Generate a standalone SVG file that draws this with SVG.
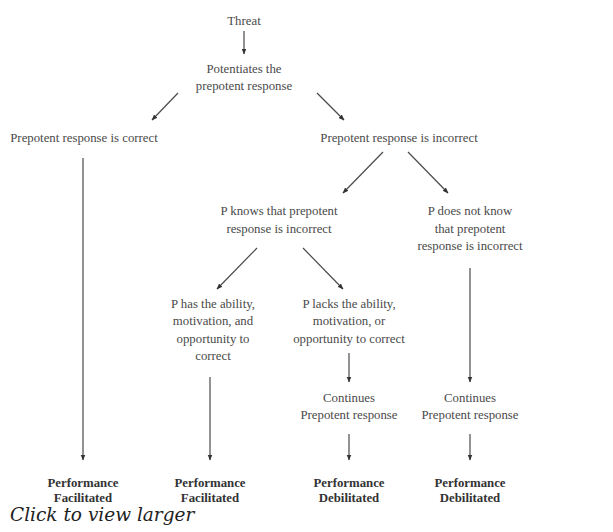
<svg xmlns="http://www.w3.org/2000/svg" width="613" height="532" viewBox="0 0 613 532">
<defs>
<style>
.t{font-family:"Liberation Serif","Times New Roman",serif;font-size:12.8px;fill:#4a4a4a;text-anchor:middle}
.b{font-weight:bold;fill:#333}
.c{stroke:#4a4a4a;stroke-width:1.2;fill:none;marker-end:url(#ah)}
.cap{font-family:"DejaVu Serif",serif;font-style:italic;font-size:18.5px;fill:#222}
</style>
<marker id="ah" viewBox="0 0 10 10" refX="9" refY="5" markerWidth="5" markerHeight="5" orient="auto" markerUnits="strokeWidth">
<path d="M0,1 L10,5 L0,9 z" fill="#333"/>
</marker>
</defs>
<rect width="613" height="532" fill="#fff"/>
<g id="connectors">
<line class="c" x1="244" y1="31" x2="244" y2="54"/>
<line class="c" x1="178" y1="93" x2="152" y2="120"/>
<line class="c" x1="317" y1="93" x2="344" y2="120"/>
<line class="c" x1="83" y1="158" x2="83" y2="460"/>
<line class="c" x1="383" y1="152" x2="343" y2="193"/>
<line class="c" x1="408" y1="152" x2="448" y2="193"/>
<line class="c" x1="257" y1="248" x2="217" y2="289"/>
<line class="c" x1="303" y1="248" x2="343" y2="289"/>
<line class="c" x1="470" y1="268" x2="470" y2="382"/>
<line class="c" x1="349" y1="353" x2="349" y2="382"/>
<line class="c" x1="210" y1="377" x2="210" y2="460"/>
<line class="c" x1="349" y1="434" x2="349" y2="460"/>
<line class="c" x1="470" y1="434" x2="470" y2="460"/>
</g>
<g id="threat"><text class="t" x="244" y="25">Threat</text></g>
<g id="potentiates"><text class="t" x="244" y="73">Potentiates the</text><text class="t" x="244" y="90">prepotent response</text></g>
<g id="correct"><text class="t" x="84" y="142">Prepotent response is correct</text></g>
<g id="incorrect"><text class="t" x="399" y="142">Prepotent response is incorrect</text></g>
<g id="knows"><text class="t" x="279" y="215">P knows that prepotent</text><text class="t" x="279" y="233">response is incorrect</text></g>
<g id="notknow"><text class="t" x="470" y="215">P does not know</text><text class="t" x="470" y="233">that prepotent</text><text class="t" x="470" y="250">response is incorrect</text></g>
<g id="has"><text class="t" x="213" y="308">P has the ability,</text><text class="t" x="213" y="325">motivation, and</text><text class="t" x="213" y="343">opportunity to</text><text class="t" x="213" y="360">correct</text></g>
<g id="lacks"><text class="t" x="349" y="308">P lacks the ability,</text><text class="t" x="349" y="325">motivation, or</text><text class="t" x="349" y="343">opportunity to correct</text></g>
<g id="continues1"><text class="t" x="349" y="402">Continues</text><text class="t" x="349" y="419">Prepotent response</text></g>
<g id="continues2"><text class="t" x="470" y="402">Continues</text><text class="t" x="470" y="419">Prepotent response</text></g>
<g id="perf1"><text class="t b" x="83" y="487">Performance</text><text class="t b" x="83" y="502">Facilitated</text></g>
<g id="perf2"><text class="t b" x="210" y="487">Performance</text><text class="t b" x="210" y="502">Facilitated</text></g>
<g id="perf3"><text class="t b" x="349" y="487">Performance</text><text class="t b" x="349" y="502">Debilitated</text></g>
<g id="perf4"><text class="t b" x="470" y="487">Performance</text><text class="t b" x="470" y="502">Debilitated</text></g>
<text class="cap" x="10" y="521">Click to view larger</text>
</svg>
